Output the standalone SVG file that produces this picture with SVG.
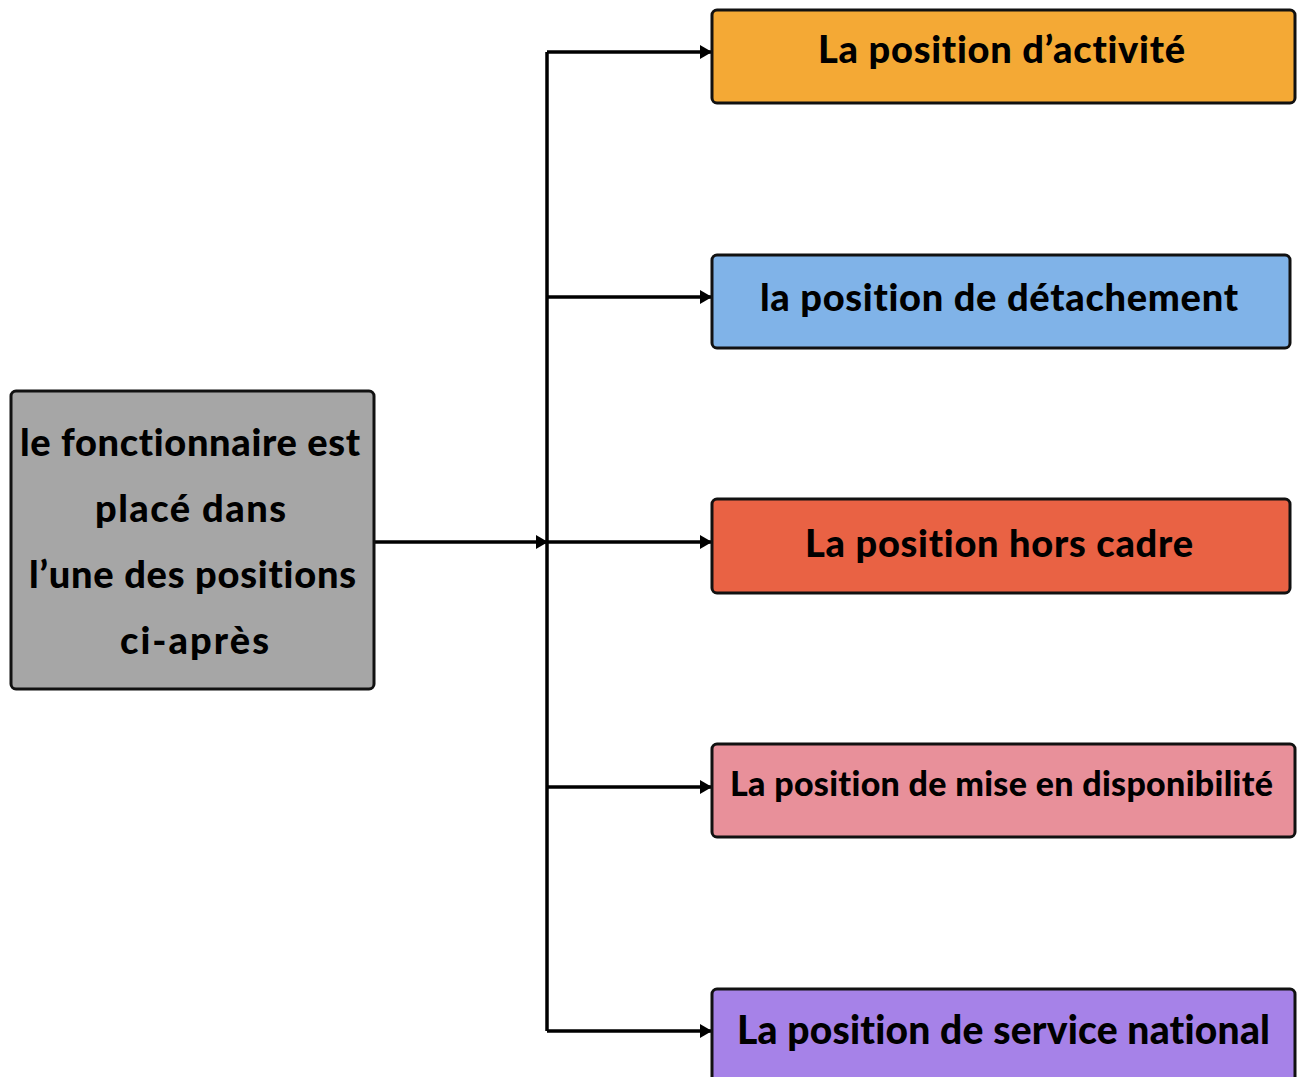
<svg xmlns="http://www.w3.org/2000/svg" width="1304" height="1077" viewBox="0 0 1304 1077">
<style>
.box{stroke:#111;stroke-width:3}
.t{font-family:"Lato","Inter",sans-serif;font-weight:900;fill:#000;text-anchor:middle;font-variant-ligatures:none;font-feature-settings:"liga" 0,"clig" 0}
.c{fill:none;stroke:#000;stroke-width:3.5}
</style>
<defs>
<marker id="ah" markerWidth="12" markerHeight="14" refX="11" refY="7" orient="auto" markerUnits="userSpaceOnUse">
<path d="M0,0 L12,7 L0,14 Z" fill="#000"/>
</marker>
</defs>
<rect width="1304" height="1077" fill="#fff"/>
<g id="connectors">
<path class="c" d="M547,52 L547,1031"/>
<path class="c" d="M374,542 L547,542" marker-end="url(#ah)"/>
<path class="c" d="M547,52 L711,52" marker-end="url(#ah)"/>
<path class="c" d="M547,297 L711,297" marker-end="url(#ah)"/>
<path class="c" d="M547,542 L711,542" marker-end="url(#ah)"/>
<path class="c" d="M547,787 L711,787" marker-end="url(#ah)"/>
<path class="c" d="M547,1031 L711,1031" marker-end="url(#ah)"/>
</g>
<g id="source">
<rect class="box" x="11" y="391" width="363" height="298" rx="5" fill="#A6A6A6"/>
<text class="t" x="190" y="456" font-size="38" textLength="340" lengthAdjust="spacing">le fonctionnaire est</text>
<text class="t" x="190.5" y="522" font-size="38" textLength="191" lengthAdjust="spacing">placé dans</text>
<text class="t" x="192.5" y="588" font-size="38" textLength="327" lengthAdjust="spacing">l’une des positions</text>
<text class="t" x="194.5" y="654" font-size="38" textLength="149" lengthAdjust="spacing">ci-après</text>
</g>
<g id="n1">
<rect class="box" x="712" y="10" width="583" height="93" rx="5" fill="#F4A935"/>
<text class="t" x="1001.5" y="63" font-size="38" textLength="367" lengthAdjust="spacing">La position d’activité</text>
</g>
<g id="n2">
<rect class="box" x="712" y="255" width="578" height="93" rx="5" fill="#80B3E8"/>
<text class="t" x="999" y="311" font-size="38" textLength="478" lengthAdjust="spacing">la position de détachement</text>
</g>
<g id="n3">
<rect class="box" x="712" y="499" width="578" height="94" rx="5" fill="#E96244"/>
<text class="t" x="999" y="557" font-size="38" textLength="388" lengthAdjust="spacing">La position hors cadre</text>
</g>
<g id="n4">
<rect class="box" x="712" y="744" width="583" height="93" rx="5" fill="#E8909A"/>
<text class="t" x="1001.5" y="796" font-size="34" textLength="543" lengthAdjust="spacing">La position de mise en disponibilité</text>
</g>
<g id="n5">
<rect class="box" x="712" y="989" width="583" height="100" rx="5" fill="#A682E8"/>
<text class="t" x="1003.5" y="1044" font-size="39" textLength="533" lengthAdjust="spacing">La position de service national</text>
</g>
</svg>
